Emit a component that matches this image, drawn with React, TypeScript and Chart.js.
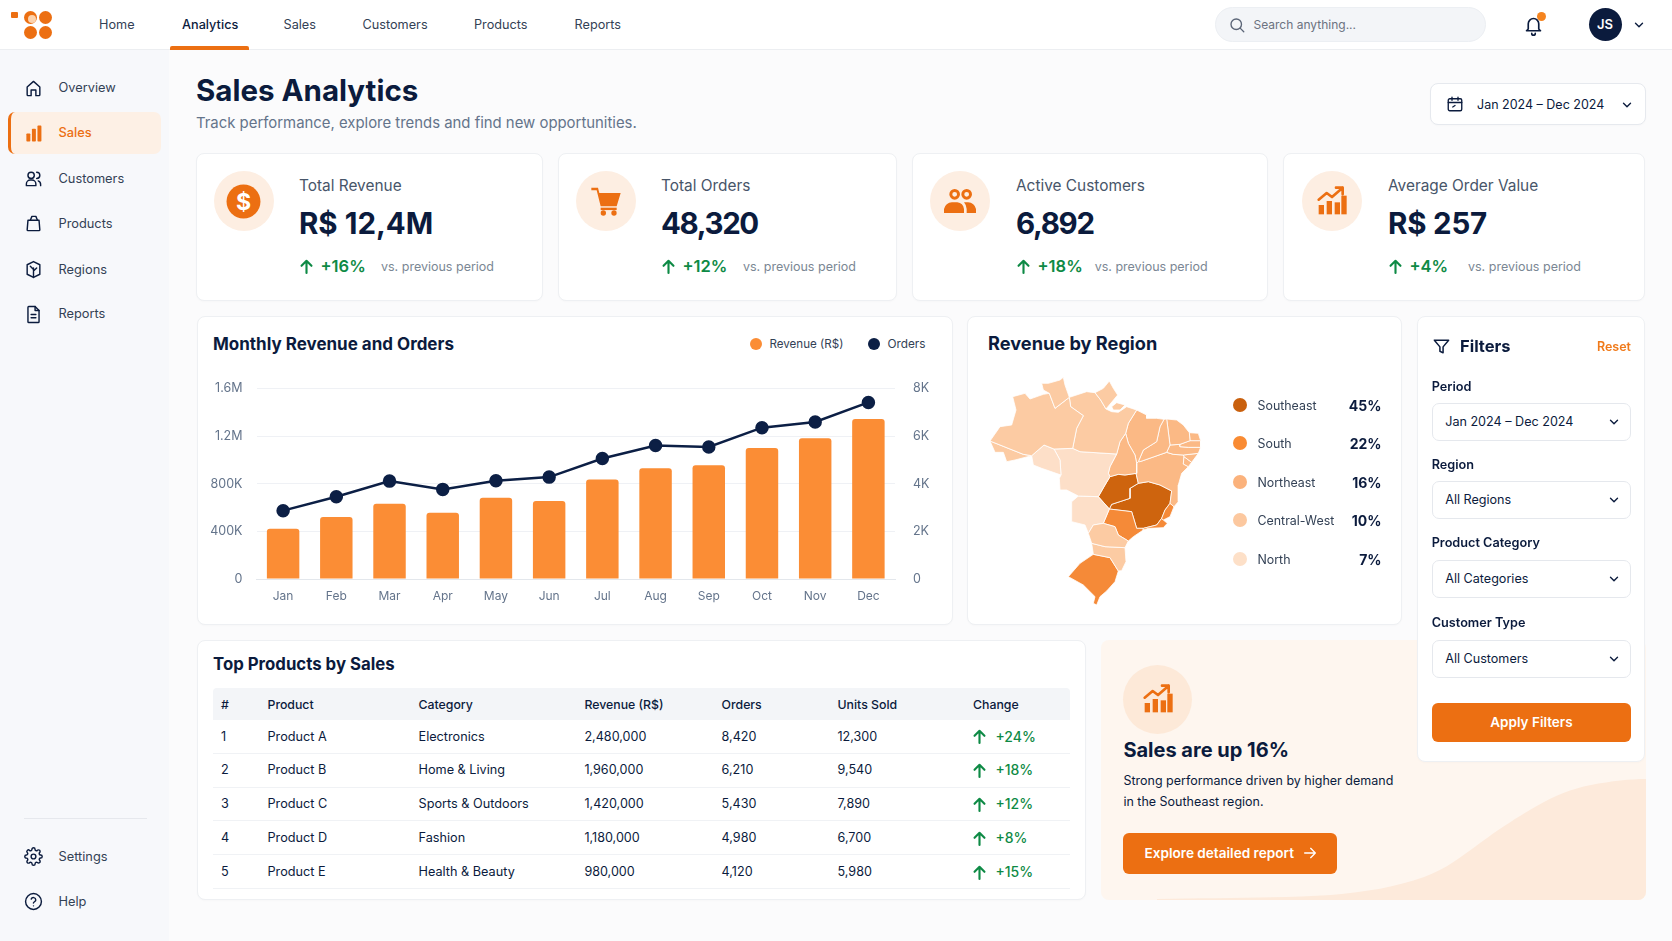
import { useEffect, useRef } from 'react';
import type { ReactNode, CSSProperties } from 'react';
import { Chart, registerables } from 'chart.js';

Chart.register(...registerables);
Chart.defaults.font.family = 'Inter';

const NAVY = '#0b1b3d';
const SLATE = '#334155';
const MUTED = '#64748b';
const ORANGE = '#ec6f12';
const GREEN = '#0e8a45';

// monthly chart
const months = ['Jan', 'Feb', 'Mar', 'Apr', 'May', 'Jun', 'Jul', 'Aug', 'Sep', 'Oct', 'Nov', 'Dec'];
const revenue = [421000, 521000, 633000, 557000, 683000, 655000, 836000, 931000, 956000, 1101000, 1182000, 1343000];
const orders = [2870, 3457, 4111, 3763, 4125, 4279, 5059, 5603, 5547, 6355, 6592, 7415];

// region legend
const regionNames = ['Southeast', 'South', 'Northeast', 'Central-West', 'North'];
const regionShares = ['45%', '22%', '16%', '10%', '7%'];
const regionColors = ['#c9600d', '#f98b33', '#fbb27c', '#fcc89f', '#fde0c8'];
const legendRows = [405.5, 443.8, 482.5, 520.8, 559.5];

// state outlines (units are the 1380x960 map box)
const roraima = [[245, 220], [265, 220], [300, 210], [310, 202], [315, 225], [328, 262], [285, 295], [268, 250], [250, 240]];
const amapa = [[405, 248], [430, 235], [448, 213], [460, 235], [473, 255], [438, 297], [422, 270]];
const amazonas = [[158, 260], [195, 250], [210, 267], [250, 253], [268, 250], [285, 295], [328, 262], [332, 290], [370, 317], [350, 355], [338, 415], [282, 417], [252, 405], [215, 437], [190, 433], [90, 393], [120, 350], [155, 345], [168, 300]];
const acre = [[90, 393], [190, 433], [215, 437], [165, 450], [140, 455], [130, 427], [105, 427]];
const para = [[328, 262], [380, 245], [405, 248], [422, 270], [438, 297], [455, 305], [475, 307], [500, 290], [530, 300], [505, 340], [497, 370], [480, 395], [470, 432], [360, 425], [338, 415], [350, 355], [370, 317], [332, 290]];
const marajo = [[455, 290], [470, 278], [495, 285], [480, 300], [460, 300]];
const rondonia = [[215, 437], [252, 405], [282, 417], [300, 450], [303, 495], [245, 475], [220, 465]];
const matoGrosso = [[282, 417], [338, 415], [360, 425], [470, 432], [450, 470], [445, 490], [450, 500], [435, 525], [415, 560], [355, 558], [320, 540], [300, 540], [298, 505], [303, 495], [300, 450]];
const matoGrossoSul = [[335, 575], [355, 558], [415, 560], [448, 597], [430, 640], [400, 645], [385, 670], [375, 645], [335, 635]];
const tocantins = [[497, 370], [505, 400], [525, 435], [530, 460], [530, 490], [495, 495], [475, 493], [450, 500], [445, 490], [450, 470], [470, 432], [480, 395]];
const maranhao = [[530, 300], [560, 315], [560, 325], [590, 325], [612, 328], [600, 350], [590, 395], [550, 420], [535, 455], [530, 460], [525, 435], [505, 400], [497, 370], [505, 340]];
const piaui = [[612, 328], [620, 327], [630, 405], [620, 427], [540, 455], [535, 455], [550, 420], [590, 395], [600, 350]];
const ceara = [[620, 327], [650, 330], [670, 345], [688, 368], [690, 392], [660, 403], [630, 405]];
const rioNorte = [[688, 368], [715, 370], [722, 392], [690, 392]];
const paraiba = [[660, 403], [690, 392], [722, 392], [722, 412], [685, 412], [660, 410]];
const pernambuco = [[620, 427], [630, 405], [660, 403], [660, 410], [685, 412], [722, 412], [715, 430], [670, 435], [640, 433]];
const alagoas = [[670, 435], [715, 430], [695, 457], [672, 440]];
const sergipe = [[672, 440], [695, 457], [685, 470], [670, 462]];
const bahia = [[530, 460], [535, 455], [540, 455], [620, 427], [640, 433], [670, 435], [672, 440], [670, 462], [685, 470], [665, 490], [655, 525], [655, 575], [642, 590], [630, 580], [635, 543], [600, 525], [565, 515], [535, 520], [528, 490]];
const goias = [[450, 500], [475, 493], [495, 495], [528, 490], [535, 520], [510, 535], [510, 565], [455, 583], [448, 597], [415, 560], [435, 525]];
const minas = [[510, 535], [535, 520], [565, 515], [600, 525], [635, 543], [630, 580], [615, 600], [605, 625], [590, 645], [550, 655], [530, 655], [515, 605], [448, 597], [455, 583], [510, 565]];
const espiritoSanto = [[630, 580], [642, 590], [630, 620], [610, 630], [605, 625], [615, 600]];
const rioJaneiro = [[605, 625], [610, 630], [622, 640], [610, 653], [565, 655], [550, 660], [550, 655], [590, 645]];
const saoPaulo = [[448, 597], [515, 605], [530, 655], [550, 655], [550, 660], [520, 680], [505, 693], [475, 675], [465, 650], [430, 640]];
const parana = [[385, 670], [400, 645], [430, 640], [465, 650], [475, 675], [505, 693], [495, 713], [435, 710], [395, 700]];
const santaCatarina = [[395, 700], [435, 710], [495, 713], [498, 755], [485, 782], [475, 783], [450, 743], [400, 733]];
const rioGrande = [[400, 733], [450, 743], [475, 783], [465, 815], [440, 843], [420, 860], [410, 885], [400, 880], [405, 860], [370, 825], [325, 800], [360, 760]];
const lagoon = [[460, 810], [455, 825], [435, 843], [442, 823]];

const peachShapes = [roraima, amapa, amazonas, acre, para, marajo, parana, santaCatarina];
const northeastShapes = [tocantins, maranhao, piaui, ceara, rioNorte, paraiba, pernambuco, alagoas, sergipe, bahia];
const paleShapes = [rondonia, matoGrosso, matoGrossoSul];
const darkShapes = [goias, minas];
const orangeShapes = [espiritoSanto, rioJaneiro, saoPaulo, rioGrande];

// kpi cards
const kpiLabels = ['Total Revenue', 'Total Orders', 'Active Customers', 'Average Order Value'];
const kpiValues = ['R$ 12,4M', '48,320', '6,892', 'R$ 257'];
const kpiDeltas = ['+16%', '+12%', '+18%', '+4%'];

// products table
const productRanks = ['1', '2', '3', '4', '5'];
const productNames = ['Product A', 'Product B', 'Product C', 'Product D', 'Product E'];
const productCategories = ['Electronics', 'Home & Living', 'Sports & Outdoors', 'Fashion', 'Health & Beauty'];
const productRevenue = ['2,480,000', '1,960,000', '1,420,000', '1,180,000', '980,000'];
const productOrders = ['8,420', '6,210', '5,430', '4,980', '4,120'];
const productUnits = ['12,300', '9,540', '7,890', '6,700', '5,980'];
const productChange = ['+24%', '+18%', '+12%', '+8%', '+15%'];

const topNav = ['Home', 'Analytics', 'Sales', 'Customers', 'Products', 'Reports'];
const sideNav = ['Overview', 'Sales', 'Customers', 'Products', 'Regions', 'Reports'];
const filterLabels = ['Period', 'Region', 'Product Category', 'Customer Type'];
const filterValues = ['Jan 2024 – Dec 2024', 'All Regions', 'All Categories', 'All Customers'];

const abs = (left: number, top: number, width: number, height: number, extra: CSSProperties = {}): CSSProperties => ({
  position: 'absolute', left, top, width, height, boxSizing: 'border-box', ...extra,
});

// text placed by its left edge and vertical centre
const T = ({ x, y, size = 13, weight = 400, color = SLATE, right, tracking = 0, children }: any) => (
  <div style={{
    position: 'absolute', top: y - 15, height: 30, lineHeight: '30px', whiteSpace: 'nowrap',
    fontSize: size, fontWeight: weight, color, letterSpacing: tracking,
    ...(right !== undefined ? { right: 1672 - right } : { left: x }),
  }}>{children}</div>
);

const Ico = ({ x, y, s = 20, color = NAVY, sw = 2, fill = 'none', children }: { x: number; y: number; s?: number; color?: string; sw?: number; fill?: string; children: ReactNode }) => (
  <svg viewBox="0 0 24 24" width={s} height={s} fill={fill} stroke={color} strokeWidth={sw} strokeLinecap="round" strokeLinejoin="round"
    style={{ position: 'absolute', left: x - s / 2, top: y - s / 2 }}>{children}</svg>
);

const Chevron = ({ x, y }: { x: number; y: number }) => (
  <Ico x={x} y={y} s={14} sw={2.4}><path d="M6 9l6 6 6-6" /></Ico>
);
const ArrowUp = ({ x, y }: { x: number; y: number }) => (
  <Ico x={x} y={y} s={17} color={GREEN} sw={3}><path d="M12 21V4M5 11l7-7 7 7" /></Ico>
);

const sideIcons: ReactNode[] = [
  <path d="M4 10l8-7 8 7v10a1 1 0 0 1-1 1h-4v-7H9v7H5a1 1 0 0 1-1-1z" />,
  <g fill={ORANGE} stroke="none"><rect x="3" y="12" width="5" height="10" rx="1" /><rect x="10" y="6" width="5" height="16" rx="1" /><rect x="17" y="2" width="5" height="20" rx="1" /></g>,
  <g><circle cx="9" cy="8" r="4" /><path d="M3 21v-2a5 5 0 0 1 5-5h2a5 5 0 0 1 5 5v2zM16 4a4 4 0 0 1 0 8M18 15a5 5 0 0 1 3 5v1" /></g>,
  <g><path d="M5 8h14l1 12a1 1 0 0 1-1 1H5a1 1 0 0 1-1-1z" /><path d="M8 8l2-5h5l2 5" /></g>,
  <g><path d="M12 2l8 4v12l-8 4-8-4V6z" /><path d="M12 22V10M12 14l4-4M12 12L8 8" /></g>,
  <g><path d="M6 2h8l5 5v14a1 1 0 0 1-1 1H6a1 1 0 0 1-1-1V3a1 1 0 0 1 1-1z" /><path d="M14 2v5h5M9 12h6M9 16h6" /></g>,
];

const GrowthIcon = () => (
  <g>
    <g fill={ORANGE} stroke="none">
      <rect x="2" y="15" width="4" height="7" /><rect x="8" y="12" width="4" height="10" />
      <rect x="14" y="13" width="4" height="9" /><rect x="19" y="8" width="4" height="14" />
    </g>
    <path d="M2 11l6-5 4 3 8-7M15 2h5v5" fill="none" stroke={ORANGE} strokeWidth={2} />
  </g>
);

const kpiIcons: ReactNode[] = [
  <g><circle cx="12" cy="12" r="11" fill={ORANGE} stroke="none" /><text x="12" y="17.5" textAnchor="middle" fontSize="15" fontWeight="700" fill="#fff" stroke="none" fontFamily="Inter">$</text></g>,
  <g fill={ORANGE} stroke="none"><path d="M1 2h5l1 4h16l-3 10H8L5 4H1z" /><rect x="8" y="17" width="12" height="1.8" /><circle cx="10" cy="21" r="2" /><circle cx="18" cy="21" r="2" /></g>,
  <g fill={ORANGE} stroke="none"><path fillRule="evenodd" d="M8 3a4 4 0 1 1 0 8 4 4 0 0 1 0-8zm0 2.2a1.8 1.8 0 1 0 0 3.6 1.8 1.8 0 0 0 0-3.6zM17 3a4 4 0 1 1 0 8 4 4 0 0 1 0-8zm0 2.2a1.8 1.8 0 1 0 0 3.6 1.8 1.8 0 0 0 0-3.6z" /><path d="M0 21v-3a6 6 0 0 1 6-5h4a6 6 0 0 1 5 5v3zM17 21v-3a8 8 0 0 0-2-5h3a6 6 0 0 1 6 5v3z" /></g>,
  <GrowthIcon />,
];

const card: CSSProperties = { background: '#fff', border: '1px solid #eef0f3', borderRadius: 8, boxShadow: '0 1px 2px rgba(15,23,42,0.02)' };

const kpiBoxes = [[196, 347], [557.7, 339], [911.5, 356.5], [1283, 362]];
const kpiIconX = [243.7, 606, 960, 1332];
const kpiTextX = [299, 661, 1016, 1388];
const kpiVsX = [381, 743, 1094.7, 1468];
const kpiTracking = [0, -1.4, -1.3, -0.2];

const MonthlyChart = () => {
  const canvasRef = useRef<HTMLCanvasElement>(null);

  useEffect(() => {
    if (!canvasRef.current) return;
    const chart = new Chart(canvasRef.current, {
      type: 'bar',
      data: {
        labels: months,
        datasets: [
          { type: 'line', label: 'Orders', data: orders, yAxisID: 'yOrders', borderColor: '#0c1f45', backgroundColor: '#0c1f45', borderWidth: 2.5, pointRadius: 5.5, tension: 0, order: 0 },
          { type: 'bar', label: 'Revenue (R$)', data: revenue, yAxisID: 'yRevenue', backgroundColor: '#fb8d35', barPercentage: 0.61, categoryPercentage: 1, borderRadius: { topLeft: 3, topRight: 3 }, order: 1 },
        ],
      },
      options: {
        responsive: false,
        animation: false,
        layout: { padding: { top: 10 } },
        plugins: { legend: { display: false }, tooltip: { enabled: false } },
        scales: {
          x: {
            grid: { display: false, drawTicks: false },
            border: { color: '#e3e7ec' },
            ticks: { color: MUTED, font: { size: 12 }, padding: 10, maxRotation: 0 },
            afterFit: (s: any) => { s.height = 41; },
          },
          yRevenue: {
            position: 'left', min: 0, max: 1600000,
            grid: { color: '#eff1f5', drawTicks: false },
            border: { display: false },
            ticks: {
              stepSize: 400000, color: MUTED, font: { size: 12.5 }, padding: 14,
              callback: (v: any) => (v === 0 ? '0' : v >= 1000000 ? `${v / 1000000}M` : `${v / 1000}K`),
            },
            afterFit: (s: any) => { s.width = 59.5; },
          },
          yOrders: {
            position: 'right', min: 0, max: 8000,
            grid: { display: false, drawTicks: false },
            border: { display: false },
            ticks: {
              stepSize: 2000, color: MUTED, font: { size: 12.5 }, padding: 18,
              callback: (v: any) => (v === 0 ? '0' : `${v / 1000}K`),
            },
            afterFit: (s: any) => { s.width = 57; },
          },
        },
      },
    } as any);
    return () => chart.destroy();
  }, []);

  return <canvas ref={canvasRef} width={755} height={257} style={{ position: 'absolute', left: 197, top: 363 }} />;
};

const RegionMap = () => {
  const canvasRef = useRef<HTMLCanvasElement>(null);

  useEffect(() => {
    if (!canvasRef.current) return;
    const shape = (points: number[][], color: string) => ({
      data: [...points, points[0]].map(([x, y]) => ({ x, y })),
      showLine: true, fill: 'shape', backgroundColor: color, borderColor: 'rgba(255,255,255,0.8)', borderWidth: 1, pointRadius: 0, tension: 0,
    });
    const chart = new Chart(canvasRef.current, {
      type: 'scatter',
      data: {
        datasets: [
          ...peachShapes.map((s) => shape(s, '#fccba3')),
          ...paleShapes.map((s) => shape(s, '#fddfc8')),
          ...northeastShapes.map((s) => shape(s, '#fbb985')),
          ...orangeShapes.map((s) => shape(s, '#f58a38')),
          ...darkShapes.map((s) => shape(s, '#ce640e')),
          shape(lagoon, '#ffffff'),
        ],
      },
      options: {
        responsive: false,
        animation: false,
        layout: { padding: 0 },
        plugins: { legend: { display: false }, tooltip: { enabled: false } },
        scales: {
          x: { type: 'linear', display: false, min: 0, max: 1380 },
          y: { type: 'linear', display: false, min: 0, max: 960, reverse: true },
        },
      },
    } as any);
    return () => chart.destroy();
  }, []);

  return <canvas ref={canvasRef} width={460} height={320} style={{ position: 'absolute', left: 960, top: 310 }} />;
};

const App = () => {
  const navX = [99, 182, 283.5, 362.5, 474, 574.5];
  const sideY = [88, 133, 178.7, 223.7, 269.7, 314.2];
  const rowY = [736.7, 770.3, 804.3, 838, 872];
  const lineY = [752.7, 787.3, 820.3, 854.3, 888.3];
  const colX = [221, 267.5, 418.5, 584.4, 721.6, 837.5, 973];
  const columns = ['#', 'Product', 'Category', 'Revenue (R$)', 'Orders', 'Units Sold', 'Change'];
  const filterLabelY = [386.7, 465, 543.4, 623.4];
  const selectBox = [[402.7, 38], [481, 38], [559.7, 38], [640, 38]];

  return (
    <div style={{ position: 'fixed', left: 0, top: 0, width: 1672, height: 941, overflow: 'hidden', background: '#fbfbfc', fontFamily: 'Inter' }}>
      {/* sidebar */}
      <div style={abs(0, 49, 169, 892, { background: '#f7f8fb' })} />
      <div style={abs(8, 112, 153, 42, { background: '#fdf0e5', borderLeft: `3px solid ${ORANGE}`, borderRadius: 7 })} />
      {sideNav.map((label, i) => (
        <div key={label}>
          <Ico x={33} y={sideY[i]} s={19} color={i === 1 ? ORANGE : NAVY} sw={1.8}>{sideIcons[i]}</Ico>
          <T x={58.5} y={sideY[i]} color={i === 1 ? ORANGE : SLATE} weight={i === 1 ? 500 : 400} size={12.8}>{label}</T>
        </div>
      ))}
      <div style={abs(24, 817.5, 123, 1, { background: '#e6e8ed' })} />
      <Ico x={33} y={856} s={19} sw={1.8}><circle cx="12" cy="12" r="3" /><path d="M19.4 15a1.65 1.65 0 0 0 .33 1.82l.06.06a2 2 0 1 1-2.83 2.83l-.06-.06a1.65 1.65 0 0 0-1.82-.33 1.65 1.65 0 0 0-1 1.51V21a2 2 0 0 1-4 0v-.09A1.65 1.65 0 0 0 9 19.4a1.65 1.65 0 0 0-1.82.33l-.06.06a2 2 0 1 1-2.83-2.83l.06-.06a1.65 1.65 0 0 0 .33-1.82 1.65 1.65 0 0 0-1.51-1H3a2 2 0 0 1 0-4h.09A1.65 1.65 0 0 0 4.6 9a1.65 1.65 0 0 0-.33-1.82l-.06-.06a2 2 0 1 1 2.83-2.83l.06.06a1.65 1.65 0 0 0 1.82.33H9a1.65 1.65 0 0 0 1-1.51V3a2 2 0 0 1 4 0v.09a1.65 1.65 0 0 0 1 1.51 1.65 1.65 0 0 0 1.82-.33l.06-.06a2 2 0 1 1 2.83 2.83l-.06.06a1.65 1.65 0 0 0-.33 1.82V9a1.65 1.65 0 0 0 1.51 1H21a2 2 0 0 1 0 4h-.09a1.65 1.65 0 0 0-1.51 1z" /></Ico>
      <T x={58.5} y={856.7} size={12.8}>Settings</T>
      <Ico x={33} y={901} s={19} sw={1.8}><circle cx="12" cy="12" r="10" /><path d="M9.1 9a3 3 0 0 1 5.8 1c0 2-3 2.5-3 4M12 17.5v.01" /></Ico>
      <T x={58.5} y={901.7} size={12.8}>Help</T>

      {/* header */}
      <div style={abs(0, 0, 1672, 49.5, { background: '#fff', borderBottom: '1px solid #eceef1' })} />
      <div style={abs(11, 12, 7, 6, { background: ORANGE, borderRadius: 1 })} />
      {[[30, 17], [45, 17], [30, 32], [45, 32]].map(([cx, cy]) => (
        <div key={`${cx}-${cy}`} style={abs(cx - 6.5, cy - 6.5, 13, 13, { background: ORANGE, borderRadius: '50%' })} />
      ))}
      <div style={abs(28, 15, 8, 8, { background: '#fcd3ae', borderRadius: '50%' })} />
      {topNav.map((label, i) => (
        <T key={label} x={navX[i]} y={24.5} size={12.7} color={i === 1 ? NAVY : SLATE} weight={i === 1 ? 500 : 400}>{label}</T>
      ))}
      <div style={abs(170, 46, 79, 3.5, { background: ORANGE, borderRadius: '2px 2px 0 0' })} />
      <div style={abs(1215, 7, 271, 35, { background: '#f3f5f8', border: '1px solid #eceff3', borderRadius: 18 })} />
      <Ico x={1237} y={25} s={18} color="#5b6577" sw={1.8}><circle cx="11" cy="11" r="7" /><path d="M21 21l-4.5-4.5" /></Ico>
      <T x={1253.5} y={25} color="#6b7280" size={12}>Search anything...</T>
      <Ico x={1533} y={25} s={21} sw={1.9}><path d="M6 16V10a6 6 0 0 1 12 0v6l2 2H4zM10 21a2 2 0 0 0 4 0" /></Ico>
      <div style={abs(1536.5, 12, 9, 9, { background: '#f5841f', borderRadius: '50%' })} />
      <div style={abs(1588.5, 8, 33, 33, { background: NAVY, borderRadius: '50%', color: '#fff', fontSize: 13, fontWeight: 600, textAlign: 'center', lineHeight: '33px' })}>JS</div>
      <Chevron x={1639} y={24.5} />

      {/* page title */}
      <T x={196} y={90} size={29.5} weight={700} color={NAVY}>Sales Analytics</T>
      <T x={196} y={122.7} size={14.9} color={MUTED}>Track performance, explore trends and find new opportunities.</T>
      <div style={{ ...abs(1430, 83, 216, 42), ...card, borderColor: '#e6e9ee' }} />
      <Ico x={1455} y={104} s={18} sw={1.8}><rect x="3" y="5" width="18" height="16" rx="2" /><path d="M3 10h18M8 3v4M16 3v4M9 16l3-2" /></Ico>
      <T x={1477} y={104.5} size={12.5} color={NAVY}>Jan 2024 – Dec 2024</T>
      <Chevron x={1627} y={104.5} />

      {/* kpi cards */}
      {kpiLabels.map((label, i) => (
        <div key={label}>
          <div style={{ ...abs(kpiBoxes[i][0], 153, kpiBoxes[i][1], 147.5), ...card }} />
          <div style={abs(kpiIconX[i] - 30, 171, 60, 60, { background: '#fdeee2', borderRadius: '50%' })} />
          <Ico x={kpiIconX[i]} y={201} s={i === 0 ? 37 : 32} color={ORANGE}>{kpiIcons[i]}</Ico>
          <T x={kpiTextX[i]} y={185.5} size={15.4} color="#475569">{label}</T>
          <T x={kpiTextX[i]} y={222.5} size={29.5} weight={700} color={NAVY} tracking={kpiTracking[i]}>{kpiValues[i]}</T>
          <ArrowUp x={kpiTextX[i] + 7} y={266.5} />
          <T x={kpiTextX[i] + 21.5} y={266} size={16.5} weight={600} color={GREEN}>{kpiDeltas[i]}</T>
          <T x={kpiVsX[i]} y={266.5} size={12.5} color="#7b8794">vs. previous period</T>
        </div>
      ))}

      {/* monthly chart card */}
      <div style={{ ...abs(196.5, 316, 756, 309), ...card }} />
      <T x={213} y={344} size={17} weight={700} color={NAVY}>Monthly Revenue and Orders</T>
      <div style={abs(750, 337.5, 12, 12, { background: '#fb8d35', borderRadius: '50%' })} />
      <T x={769.5} y={343.5} size={11.6} color={SLATE}>Revenue (R$)</T>
      <div style={abs(868, 337.5, 12, 12, { background: '#0c1f45', borderRadius: '50%' })} />
      <T x={887.5} y={343.5} size={11.8} color={SLATE}>Orders</T>
      <MonthlyChart />

      {/* region card */}
      <div style={{ ...abs(967, 316, 435, 309), ...card }} />
      <T x={988} y={343} size={18.2} weight={700} color={NAVY}>Revenue by Region</T>
      <RegionMap />
      {regionNames.map((name, i) => (
        <div key={name}>
          <div style={abs(1233, legendRows[i] - 7.5, 14, 14, { background: regionColors[i], borderRadius: '50%' })} />
          <T x={1257.5} y={legendRows[i]} size={12.4} color={SLATE}>{name}</T>
          <T right={1381.5} y={legendRows[i]} size={14} weight={700} color={NAVY}>{regionShares[i]}</T>
        </div>
      ))}

      {/* table card */}
      <div style={{ ...abs(196.5, 640, 889, 260), ...card }} />
      <T x={213} y={664} size={16.8} weight={700} color={NAVY}>Top Products by Sales</T>
      <div style={abs(213, 688, 856.5, 32, { background: '#f3f5f8', borderRadius: '4px 4px 0 0' })} />
      {columns.map((c, i) => (
        <T key={c} x={colX[i]} y={704.5} size={12.3} weight={500} color={NAVY}>{c}</T>
      ))}
      {productNames.map((name, i) => (
        <div key={name}>
          <T x={colX[0]} y={rowY[i]} size={12.7} color={NAVY}>{productRanks[i]}</T>
          <T x={colX[1]} y={rowY[i]} size={12.7} color={NAVY}>{name}</T>
          <T x={colX[2]} y={rowY[i]} size={12.7} color={NAVY}>{productCategories[i]}</T>
          <T x={colX[3]} y={rowY[i]} size={12.6} color={NAVY}>{productRevenue[i]}</T>
          <T x={colX[4]} y={rowY[i]} size={12.6} color={NAVY}>{productOrders[i]}</T>
          <T x={colX[5]} y={rowY[i]} size={12.6} color={NAVY}>{productUnits[i]}</T>
          <ArrowUp x={979} y={rowY[i]} />
          <T x={995.4} y={rowY[i]} size={14} weight={500} color={GREEN}>{productChange[i]}</T>
          <div style={abs(213, lineY[i], 856.5, 1, { background: '#f0f2f5' })} />
        </div>
      ))}

      {/* insight panel */}
      <div style={abs(1101, 640, 545, 259.5, { background: '#fef6ef', borderRadius: 8, overflow: 'hidden' })}>
        <svg width={545} height={260} style={{ position: 'absolute', left: 0, top: 0 }}>
          <path d="M56 259 C120 258 180 258 230 255 C265 252 295 247 323 237 C345 229 360 217 379 203 C400 188 415 178 434 167 C455 155 470 149 490 145 C510 141 530 139 545 139 L545 260 L56 260 Z" fill="#fdeadb" />
        </svg>
      </div>
      <div style={abs(1123, 664.5, 69, 69, { background: '#fde9d8', borderRadius: '50%' })} />
      <Ico x={1157.5} y={699} s={32} color={ORANGE}><GrowthIcon /></Ico>
      <T x={1123.4} y={750} size={20} weight={700} color={NAVY}>Sales are up 16%</T>
      <T x={1123.4} y={780.7} size={12.5} color={NAVY}>Strong performance driven by higher demand</T>
      <T x={1123.4} y={801.7} size={12.5} color={NAVY}>in the Southeast region.</T>
      <div style={abs(1123, 833, 214, 40.5, { background: ORANGE, borderRadius: 6 })} />
      <T x={1144.5} y={853} size={13.6} weight={600} color="#fff">Explore detailed report</T>
      <Ico x={1310} y={853} s={16} color="#fff"><path d="M4 12h16M13 5l7 7-7 7" /></Ico>

      {/* filters */}
      <div style={{ ...abs(1416.7, 316, 228.5, 446), ...card }} />
      <Ico x={1441} y={346} s={19} sw={1.9}><path d="M3 4h18l-7 8.5V20l-4-2v-5.5z" /></Ico>
      <T x={1460} y={346} size={16.5} weight={700} color={NAVY}>Filters</T>
      <T right={1631} y={346.5} size={12.5} weight={600} color="#f07a1a">Reset</T>
      {filterLabels.map((label, i) => (
        <div key={label}>
          <T x={1431.7} y={filterLabelY[i]} size={12.7} weight={600} color={NAVY}>{label}</T>
          <div style={abs(1431.7, selectBox[i][0], 199.5, selectBox[i][1], { background: '#fff', border: '1px solid #e5e8ed', borderRadius: 7 })} />
          <T x={1445.2} y={selectBox[i][0] + 19.2} size={12.6} color={NAVY}>{filterValues[i]}</T>
          <Chevron x={1614} y={selectBox[i][0] + 19} />
        </div>
      ))}
      <div style={abs(1431.7, 703.3, 199.5, 38.7, { background: ORANGE, borderRadius: 6, color: '#fff', fontSize: 13.5, fontWeight: 600, textAlign: 'center', lineHeight: '38.7px' })}>Apply Filters</div>
    </div>
  );
};

export default App;
